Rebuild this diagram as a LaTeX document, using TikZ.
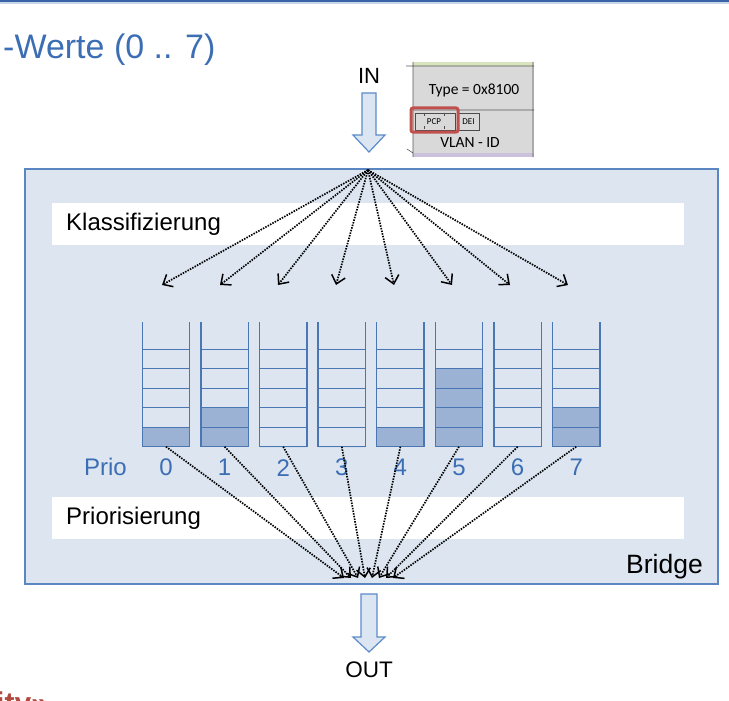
\documentclass[tikz,border=0pt]{standalone}
\usepackage{fontspec}
\setmainfont{Liberation Sans}
\newfontfamily\frameFont{Carlito}
\usepackage{tikz}
\usetikzlibrary{
  arrows.meta,
  positioning,
  calc
}
\definecolor{brRule}{HTML}{3A64A8}
\definecolor{brRuleLight}{HTML}{C9D6EA}
\definecolor{brTitle}{HTML}{3C6EB4}
\definecolor{brBack}{HTML}{DCE5F0}
\definecolor{brEdge}{HTML}{5A86C1}
\definecolor{brQueue}{HTML}{4A77B4}
\definecolor{brFill}{HTML}{9BB2D4}
\definecolor{brArrow}{HTML}{DCE6F2}
\definecolor{brArrowEdge}{HTML}{5B8BC9}
\definecolor{brRed}{HTML}{C0504D}
\definecolor{brGray}{HTML}{D9D9D9}
\definecolor{brGreen}{HTML}{D7E4BD}
\definecolor{brPurple}{HTML}{CCC1DA}
\definecolor{brLogo}{HTML}{B04A3F}
\tikzset{
  brtext/.style={font=\fontsize{24}{27}\selectfont, inner sep=0pt},
  title/.style={brtext, font=\fontsize{34}{38}\selectfont, text=brTitle},
  bridgebox/.style={draw=brEdge, line width=1.5pt, fill=brBack, inner sep=0pt, minimum width=693pt, minimum height=415pt, anchor=north west},
  band/.style={fill=white, brtext, minimum width=632pt, minimum height=42pt, text width=604pt, inner xsep=14pt, align=left, anchor=north west},
  queue/.style={minimum width=47pt, minimum height=124.5pt, inner sep=0pt},
  queueline/.style={draw=brQueue, line width=1.3pt},
  prio/.style={brtext, text=brTitle},
  blockarrow/.style={draw=brArrowEdge, fill=brArrow, line width=1.2pt, line join=miter},
  flow/.style={black, line width=1.7pt, dash pattern=on 1.5pt off 1.2pt, -{Straight Barb[length=8pt, width=14pt, line width=1.5pt]}},
  frametext/.style={font=\frameFont\fontsize{15.5}{18}\selectfont, inner sep=0pt},
  framesmall/.style={font=\frameFont\fontsize{9}{10}\selectfont, inner sep=0pt}
}
\begin{document}
\begin{tikzpicture}[x=1pt, y=-1pt]
  \useasboundingbox (0,0) rectangle (729,701);
  \clip (0,0) rectangle (729,701);
  \fill[brRule] (0,0) rectangle (729,2.5);
  \fill[brRuleLight] (0,2.5) rectangle (729,4.5);
  \node[title, anchor=west] (title) at (3,50) {-Werte (0 .. 7)};

  \node[brtext, font=\fontsize{22}{25}\selectfont] (in) at (369,76) {IN};
  \draw[blockarrow] (362,93) -- (376,93) -- (376,135) -- (385,135) -- (369,152) -- (353,135) -- (362,135) -- cycle;

  \fill[brGray] (413,66) rectangle (534,153);
  \fill[brGreen] (413,62) rectangle (534,66);
  \fill[brPurple] (413,153) rectangle (534,157);
  \draw[gray!70!black, line width=0.6pt] (406,66) -- (534,66) (413,62) -- (413,157) (533,62) -- (533,157) (413,110) -- (534,110) (407,149) -- (413,153);
  \node[frametext] (type) at (474,90) {Type = 0x8100};
  \draw[black!70, line width=0.6pt] (415,113) rectangle (455,130);
  \draw[black!70, line width=0.6pt, dashed] (424,113) -- (424,117) (424,126) -- (424,130) (444,113) -- (444,117) (444,126) -- (444,130);
  \node[framesmall] (pcp) at (434,121.5) {PCP};
  \draw[black!70, line width=0.6pt] (458,113) rectangle (479,130);
  \node[framesmall] (dei) at (468.5,121.5) {DEI};
  \node[frametext] (vlan) at (470,143) {VLAN - ID};
  \draw[brRed, line width=3pt, rounded corners=2pt] (411,108) rectangle (458,132);

  \node[bridgebox] (bridge) at (24,168) {};
  \node[band] (classify) at (52,203) {Klassifizierung};
  \node[band] (prioritize) at (52,497) {Priorisierung};
  \node[brtext, font=\fontsize{26.5}{30}\selectfont, anchor=base east] (bridgelabel) at (703,573) {Bridge};

  \coordinate (src) at (368,170);
  \foreach \n [count=\i from 0] in {1,2,0,0,1,4,0,2} {
    \node[queue] (q\i) at (166+58.6*\i,384.25) {};
    \fill[brFill] (q\i.south west) rectangle ++(47,-19.5*\n);
    \foreach \k in {1,...,5}
      \draw[queueline] ($(q\i.south west)+(0,-19.5*\k)$) -- ++(47,0);
    \draw[queueline] (q\i.north west) -- (q\i.south west) -- (q\i.south east) -- (q\i.north east);
    \node[prio] (n\i) at ($(q\i.south)+(0,21)$) {\i};
    \coordinate (cin\i) at (162+58*\i,285);
    \coordinate (cout\i) at (344+7*\i,578);
    \draw[flow] (src) -- (cin\i);
    \draw[flow] (q\i.south) -- (cout\i);
  }
  \node[prio, anchor=east] (priolabel) at (127,467) {Prio};

  \draw[blockarrow] (361,594) -- (377,594) -- (377,637) -- (385,637) -- (369,652) -- (353,637) -- (361,637) -- cycle;
  \node[brtext, font=\fontsize{22.5}{26}\selectfont] (out) at (369,670) {OUT};

  \node[brtext, font=\bfseries\fontsize{30}{34}\selectfont, text=brLogo, anchor=base west] (logo) at (-4,713) {ity»};
\end{tikzpicture}
\end{document}
